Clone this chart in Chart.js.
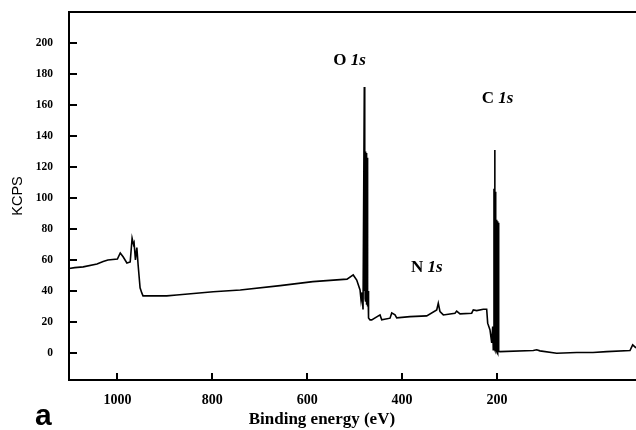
<!DOCTYPE html>
<html>
<head>
<meta charset="utf-8">
<script src="https://cdn.jsdelivr.net/npm/chart.js@4.4.1/dist/chart.umd.min.js"></script>
<style>
  body { margin: 0; background: #fff; }
  #wrap { width: 636px; height: 430px; }
</style>
</head>
<body>
<div id="wrap"><canvas id="xps" width="636" height="430"></canvas></div>
<script>
// 结合能 (eV) 与强度 (KCPS)，从图上读出（按行对应）
const energy = [
  1102, 1090, 1072, 1043, 1030, 1020, 1000, 994, 988, 980,
  973, 969, 966, 964.8, 962, 959, 956.4, 952.2, 948.6, 946,
  896, 875, 798, 741, 657, 588, 516, 503, 495.6, 488.6,
  486.5, 484.4, 482.3, 479.6, 479.0, 478.4, 477.8, 477.2, 476.6, 476.0,
  475.4, 474.8, 474.2, 473.6, 473.0, 472.4, 471.8, 470.7, 467.6, 464,
  446.5, 442.9, 425.4, 421.8, 414.9, 411.3, 383.3, 348.1, 327, 323.7,
  320.1, 313.1, 288.5, 284.9, 277.9, 253.3, 249.9, 242.7, 228.8, 221.7,
  219.6, 214.7, 211.1, 209, 207.8, 206.3, 205.6, 204.8, 204.2, 203.6,
  203.0, 202.4, 201.8, 201.2, 200.6, 200.0, 199.4, 198.8, 198.2, 197.6,
  197.0, 196.4, 195.8, 193.6, 123.5, 116.3, 109.4, 74.2, 32, -2.3,
  -31.2, -80.3, -86, -93];
const kcps = [
  54.5, 55, 55.5, 57.4, 59, 60, 60.6, 64.5, 62, 58,
  58.7, 74, 70, 71, 60, 68, 57, 42, 38.7, 36.8,
  36.8, 37.4, 39.5, 40.6, 43.4, 46, 47.6, 50.3, 47, 40.6,
  34, 39, 28, 171.6, 40, 131, 35, 130, 33, 129,
  36, 128, 31, 126, 40, 30, 40, 22.6, 21.3, 21.3,
  24.5, 21.3, 22.4, 25.8, 24.5, 22.6, 23.4, 23.9, 27.7, 32,
  26.6, 24.5, 25.6, 27, 25.2, 25.6, 27.7, 27.3, 28.2, 28.2,
  19.2, 14.8, 6.5, 17, 2, 106, 3, 131, 2, 104,
  1, 86, 2, 86, 1, 86, 2, 85, 1, 84,
  2, 84, 1, 0.8, 1.5, 2, 1.3, -0.2, 0.2, 0.2,
  0.8, 1.5, 5.2, 3.2];

// 刻度
const xTicks = [1000, 800, 600, 400, 200];
const yTicks = [0, 20, 40, 60, 80, 100, 120, 140, 160, 180, 200];

// 峰标注
const peakNames = ['O', 'N', 'C'];

const points = energy.map((e, i) => ({ x: e, y: kcps[i] }));

// 边框、向内刻度、文字标注
const framePlugin = {
  id: 'frame',
  afterDraw(chart) {
    const { ctx, chartArea: a, scales: { x, y } } = chart;
    ctx.save();
    ctx.strokeStyle = '#000';
    ctx.lineWidth = 2;
    ctx.beginPath();
    ctx.moveTo(a.right, a.top);
    ctx.lineTo(a.left, a.top);
    ctx.lineTo(a.left, a.bottom);
    ctx.lineTo(a.right, a.bottom);
    yTicks.forEach(v => {
      const py = Math.round(y.getPixelForValue(v));
      ctx.moveTo(a.left, py);
      ctx.lineTo(a.left + 8, py);
    });
    xTicks.forEach(v => {
      const px = Math.round(x.getPixelForValue(v));
      ctx.moveTo(px, a.bottom);
      ctx.lineTo(px, a.bottom - 7);
    });
    ctx.stroke();

    ctx.fillStyle = '#000';
    // 峰名称 (数据坐标定位)
    const anchorE = [545, 381, 232];
    const anchorV = [186, 52, 161];
    peakNames.forEach((n, i) => {
      const px = x.getPixelForValue(anchorE[i]);
      const py = y.getPixelForValue(anchorV[i]);
      ctx.font = 'bold 17px "Liberation Serif"';
      ctx.fillText(n + ' ', px, py);
      const w = ctx.measureText(n + ' ').width;
      ctx.font = 'bold italic 17px "Liberation Serif"';
      ctx.fillText('1s', px + w, py);
    });

    // x 轴标题
    ctx.font = 'bold 17px "Liberation Serif"';
    ctx.textAlign = 'center';
    ctx.fillText('Binding energy (eV)', x.getPixelForValue(569), 424);

    // 子图编号
    ctx.textAlign = 'left';
    ctx.font = 'bold 30px "Liberation Sans"';
    ctx.fillText('a', 35, 425);
    ctx.restore();
  }
};

new Chart(document.getElementById('xps'), {
  type: 'line',
  data: {
    datasets: [{
      data: points,
      borderColor: '#000',
      borderWidth: 1.6,
      pointRadius: 0,
      tension: 0,
      fill: false
    }]
  },
  options: {
    responsive: false,
    animation: false,
    layout: { padding: { top: 12, right: 0, left: 0, bottom: 0 } },
    plugins: { legend: { display: false }, tooltip: { enabled: false } },
    scales: {
      x: {
        type: 'linear',
        reverse: true,
        min: -93,
        max: 1102,
        afterBuildTicks: s => { s.ticks = xTicks.map(v => ({ value: v })); },
        afterFit: s => { s.height = 50; s.paddingLeft = 0; s.paddingRight = 0; },
        grid: { display: false, drawTicks: false },
        border: { display: false },
        ticks: {
          color: '#000',
          padding: 12,
          maxRotation: 0,
          callback: v => String(v),
          font: { family: '"Liberation Serif"', size: 14, weight: 'bold' }
        }
      },
      y: {
        min: -17.5,
        max: 220,
        afterBuildTicks: s => { s.ticks = yTicks.map(v => ({ value: v })); },
        afterFit: s => { s.width = 69; s.paddingTop = 0; s.paddingBottom = 0; },
        grid: { display: false, drawTicks: false },
        border: { display: false },
        ticks: {
          color: '#000',
          padding: 16,
          font: { family: '"Liberation Serif"', size: 11.5, weight: 'bold' }
        },
        title: {
          display: true,
          text: 'KCPS',
          color: '#000',
          padding: { top: 9, bottom: 0 },
          font: { family: '"Liberation Sans"', size: 14.5, weight: 'normal' }
        }
      }
    }
  },
  plugins: [framePlugin]
});
</script>
</body>
</html>
